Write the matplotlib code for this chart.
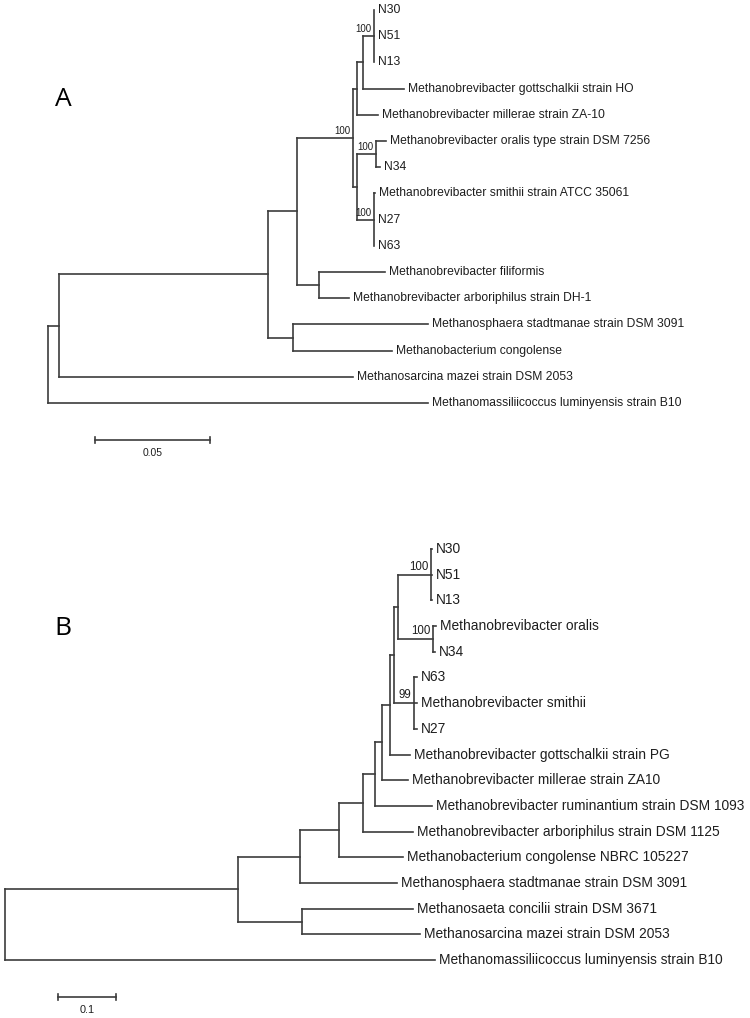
import matplotlib
matplotlib.use("Agg")
import matplotlib.pyplot as plt

plt.rcParams['font.family'] = ['Liberation Sans', 'DejaVu Sans']

LINE = '#3c3c3c'
TXT = '#1e1e1e'

# ---- tree A (leaves top to bottom, distance from root) ----
a_leaves = ["N30", "N51", "N13",
            "Methanobrevibacter gottschalkii strain HO",
            "Methanobrevibacter millerae strain ZA-10",
            "Methanobrevibacter oralis type strain DSM 7256",
            "N34",
            "Methanobrevibacter smithii strain ATCC 35061",
            "N27", "N63",
            "Methanobrevibacter filiformis",
            "Methanobrevibacter arboriphilus strain DH-1",
            "Methanosphaera stadtmanae strain DSM 3091",
            "Methanobacterium congolense",
            "Methanosarcina mazei strain DSM 2053",
            "Methanomassiliicoccus luminyensis strain B10"]
a_leaf_dist = [0.1417, 0.1417, 0.1417, 0.1548, 0.1435, 0.1470, 0.1443, 0.1422,
               0.1417, 0.1417, 0.1465, 0.1309, 0.1652, 0.1496, 0.1326, 0.1652]
# internal nodes: children are leaf indices or node names
a_children = {
    "r": ["a1", 15],
    "a1": ["a2", 14],
    "a2": ["a3", "a4"],
    "a4": [12, 13],
    "a3": ["a5", "a6"],
    "a6": [10, 11],
    "a5": ["a7", "a8"],
    "a7": ["a9", 4],
    "a9": ["a10", 3],
    "a10": [0, 1, 2],
    "a8": ["a11", "a12"],
    "a11": [5, 6],
    "a12": [7, 8, 9],
}
a_node_dist = {"r": 0.0, "a1": 0.0048, "a2": 0.0957, "a3": 0.1083, "a4": 0.1065,
               "a5": 0.1326, "a6": 0.1178, "a7": 0.1343, "a8": 0.1343,
               "a9": 0.1370, "a10": 0.1417, "a11": 0.1426, "a12": 0.1417}
a_boot = {"a10": 100, "a5": 100, "a11": 100, "a12": 100}

# ---- tree B ----
b_leaves = ["N30", "N51", "N13",
            "Methanobrevibacter oralis",
            "N34", "N63",
            "Methanobrevibacter smithii",
            "N27",
            "Methanobrevibacter gottschalkii strain PG",
            "Methanobrevibacter millerae strain ZA10",
            "Methanobrevibacter ruminantium strain DSM 1093",
            "Methanobrevibacter arboriphilus strain DSM 1125",
            "Methanobacterium congolense NBRC 105227",
            "Methanosphaera stadtmanae strain DSM 3091",
            "Methanosaeta concilii strain DSM 3671",
            "Methanosarcina mazei strain DSM 2053",
            "Methanomassiliicoccus luminyensis strain B10"]
b_leaf_dist = [0.7362, 0.7362, 0.7362, 0.7431, 0.7414, 0.7095, 0.7095, 0.7095,
               0.6983, 0.6948, 0.7362, 0.7034, 0.6862, 0.6759, 0.7034, 0.7155,
               0.7414]
b_children = {
    "r": [16, "b1"],
    "b1": ["b2", "b3"],
    "b3": [14, 15],
    "b2": ["b4", 13],
    "b4": ["b5", 12],
    "b5": ["b6", 11],
    "b6": ["b7", 10],
    "b7": ["b8", 9],
    "b8": ["b9", 8],
    "b9": ["b10", "b11"],
    "b10": ["b12", "b13"],
    "b12": [0, 1, 2],
    "b13": [3, 4],
    "b11": [5, 6, 7],
}
b_node_dist = {"r": 0.0, "b1": 0.4017, "b2": 0.5086, "b3": 0.5121, "b4": 0.5759,
               "b5": 0.6172, "b6": 0.6379, "b7": 0.6500, "b8": 0.6638,
               "b9": 0.6707, "b10": 0.6776, "b11": 0.7060, "b12": 0.7345,
               "b13": 0.7379}
b_boot = {"b12": 100, "b13": 100, "b11": 99}


def draw_tree(ax, leaves, leaf_dist, children, node_dist, boot, fs, bfs):
    ys = {}

    def pos(k):
        if isinstance(k, int):
            return leaf_dist[k], k
        if k not in ys:
            ch = children[k]
            ys[k] = (pos(ch[0])[1] + pos(ch[-1])[1]) / 2
        return node_dist[k], ys[k]

    kw = dict(color=LINE, lw=1.2, solid_capstyle='projecting')
    for k, ch in children.items():
        x, y = pos(k)
        cy = [pos(c)[1] for c in ch]
        ax.plot([x, x], [min(cy), max(cy)], **kw)
        for c in ch:
            cx, yy = pos(c)
            ax.plot([x, cx], [yy, yy], **kw)

    for i, name in enumerate(leaves):
        ax.annotate(name, (leaf_dist[i], i), xytext=(3, 0),
                    textcoords='offset points', ha='left', va='center',
                    fontsize=fs, color=TXT)
    for k, v in boot.items():
        x, y = pos(k)
        ax.annotate(str(v), (x, y), xytext=(-2, 1.5),
                    textcoords='offset points', ha='right', va='bottom',
                    fontsize=bfs, color=TXT)


def scale_bar(ax, x0, length, y, cap, label, fs):
    kw = dict(color=LINE, lw=1.2)
    ax.plot([x0, x0 + length], [y, y], **kw)
    ax.plot([x0, x0], [y - cap, y + cap], **kw)
    ax.plot([x0 + length, x0 + length], [y - cap, y + cap], **kw)
    ax.text(x0 + length / 2, y + 0.3, label, ha='center', va='top',
            fontsize=fs, color=TXT)


fig = plt.figure(figsize=(7.5, 10.18), dpi=100)

# panel A: 2300 px per unit, leaf step 26.2 px
axA = fig.add_axes([0, 0.5, 1, 0.5])
axA.set_xlim(-48 / 2300, 702 / 2300)
axA.set_ylim(499 / 26.2, -10 / 26.2)
axA.axis('off')
draw_tree(axA, a_leaves, a_leaf_dist, a_children, a_node_dist, a_boot, 8.7, 7)
scale_bar(axA, 0.0204, 0.05, 16.4, 0.12, "0.05", 7.4)

# panel B: 580 px per unit, leaf step 25.7 px
axB = fig.add_axes([0, 0, 1, 0.5])
axB.set_xlim(-5 / 580, 745 / 580)
axB.set_ylim(469 / 25.69, -40 / 25.69)
axB.axis('off')
draw_tree(axB, b_leaves, b_leaf_dist, b_children, b_node_dist, b_boot, 9.9, 8.3)
scale_bar(axB, 0.0914, 0.1, 17.44, 0.12, "0.1", 7.8)

fig.text(0.084, 0.9027, "A", fontsize=19, family=['Open Sans', 'DejaVu Sans'],
         ha='center', va='center')
fig.text(0.084, 0.383, "B", fontsize=19, family=['Open Sans', 'DejaVu Sans'],
         ha='center', va='center')

fig.savefig('out.png', dpi=100)
